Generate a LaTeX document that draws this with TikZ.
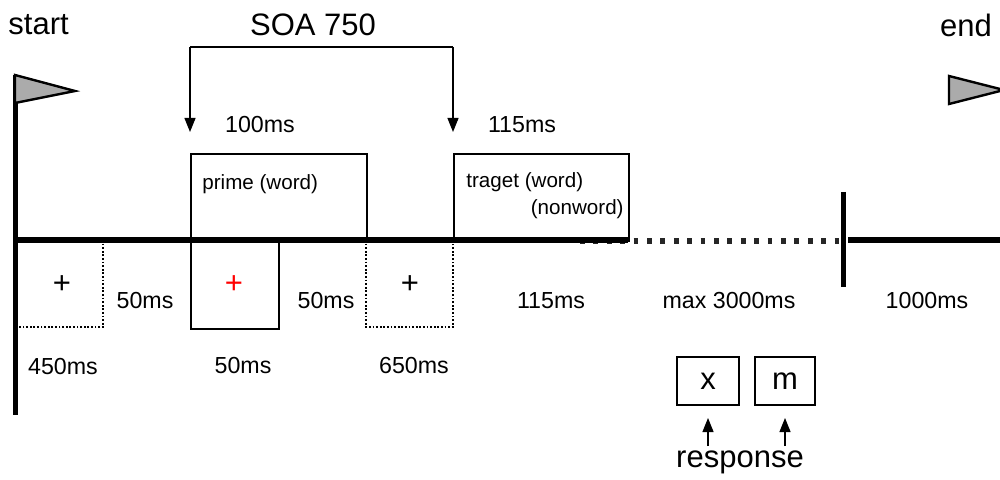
\documentclass[tikz,border=0pt]{standalone}
\usepackage{fontspec}
\setmainfont{Liberation Sans}
\usetikzlibrary{arrows.meta}
\begin{document}
\begin{tikzpicture}[x=0.5pt,y=-0.5pt,
  big/.style={font=\fontsize{15.5}{18}\selectfont, inner sep=0pt},
  mid/.style={font=\fontsize{11.6}{14}\selectfont, inner sep=0pt},
  small/.style={font=\fontsize{10.3}{12}\selectfont, inner sep=0pt},
  axis/.style={line width=3pt},
  boxs/.style={draw, line width=0.9pt, inner sep=0pt},
  dotbox/.style={draw, line width=1pt, dash pattern=on 0.9pt off 0.9pt},
  flag/.style={draw, line width=1.2pt, fill=gray!90!black!60, line join=miter},
  arr/.style={-{Triangle[length=7pt,width=5.5pt]}, line width=0.6pt}]
\useasboundingbox (0,0) rectangle (1000,480);
% coordinates
\coordinate (ax0) at (15,240);
\coordinate (axs) at (628,240);
\coordinate (dotS) at (580,241);
\coordinate (dotE) at (840,241);
\coordinate (ax2) at (848,240);
\coordinate (axE) at (1000,240);
\coordinate (poleT) at (15,75);
\coordinate (poleB) at (15,415);
\coordinate (barT) at (843,192);
\coordinate (barB) at (843,287);
% upper boxes
\node[boxs, minimum width=88pt, minimum height=43.5pt, anchor=north west] (prime) at (190,153) {};
\node[boxs, minimum width=87.5pt, minimum height=43.5pt, anchor=north west] (target) at (453,153) {};
\node[small, anchor=west] (primet) at (202,184) {prime (word)};
\node[small, anchor=west] (trg1) at (466,182) {traget (word)};
\node[small, anchor=east] (trg2) at (624,209) {(nonword)};
% lower boxes
\node[boxs, minimum width=44pt, minimum height=44pt, anchor=north west] (redbox) at (190,240) {};
\node[big, text=red] (redplus) at (234,285) {+};
\draw[dotbox] (103,240) -- (103,327) -- (15,327);
\node[big] (plus1) at (62,285) {+};
\draw[dotbox] (366,240) -- (366,327) -- (453,327) -- (453,240);
\node[big] (plus2) at (410,285) {+};
% axis
\draw[line width=2.6pt, dash pattern=on 2.4pt off 4.3pt, black!85] (dotS) -- (dotE);
\draw[axis] (ax0) -- (axs);
\draw[axis] (ax2) -- (axE);
\draw[line width=2.5pt] (poleT) -- (poleB);
\draw[line width=2.5pt] (barT) -- (barB);
% flags
\draw[flag] (poleT) -- (75,91) -- (15,103) -- cycle;
\draw[flag] (949,76) -- (1004,90) -- (949,104) -- cycle;
% titles
\node[big, anchor=west] (start) at (8,25) {start};
\node[big] (endt) at (966,25) {end};
\node[big] (soa) at (313,25) {SOA 750};
% SOA bracket
\coordinate (soaL) at (190,47);
\coordinate (soaR) at (453,47);
\coordinate (soaLa) at (190,132);
\coordinate (soaRa) at (453,132);
\draw[arr] (soaL) -- (soaLa);
\draw[arr] (soaR) -- (soaRa);
\draw[line width=0.6pt] (soaL) -- (soaR);
% durations
\node[mid] (d100) at (260,125) {100ms};
\node[mid] (d115a) at (522,125) {115ms};
\node[mid] (d50a) at (145,301) {50ms};
\node[mid] (d50b) at (326,301) {50ms};
\node[mid] (d115b) at (551,301) {115ms};
\node[mid] (dmax) at (729,301) {max 3000ms};
\node[mid] (d1000) at (927,301) {1000ms};
\node[mid] (d450) at (63,367) {450ms};
\node[mid] (d50c) at (243,366) {50ms};
\node[mid] (d650) at (414,366) {650ms};
% response
\node[boxs, big, minimum width=31pt, minimum height=24pt] (kx) at (708,381) {x};
\node[boxs, big, minimum width=30pt, minimum height=24pt] (km) at (785,381) {m};
\node[big] (resp) at (740,462) {response};
\coordinate (ax1) at (708,446);
\coordinate (am1) at (785,446);
\draw[arr] (ax1) -- (kx.south |- 0,418);
\draw[arr] (am1) -- (km.south |- 0,418);
\end{tikzpicture}
\end{document}
